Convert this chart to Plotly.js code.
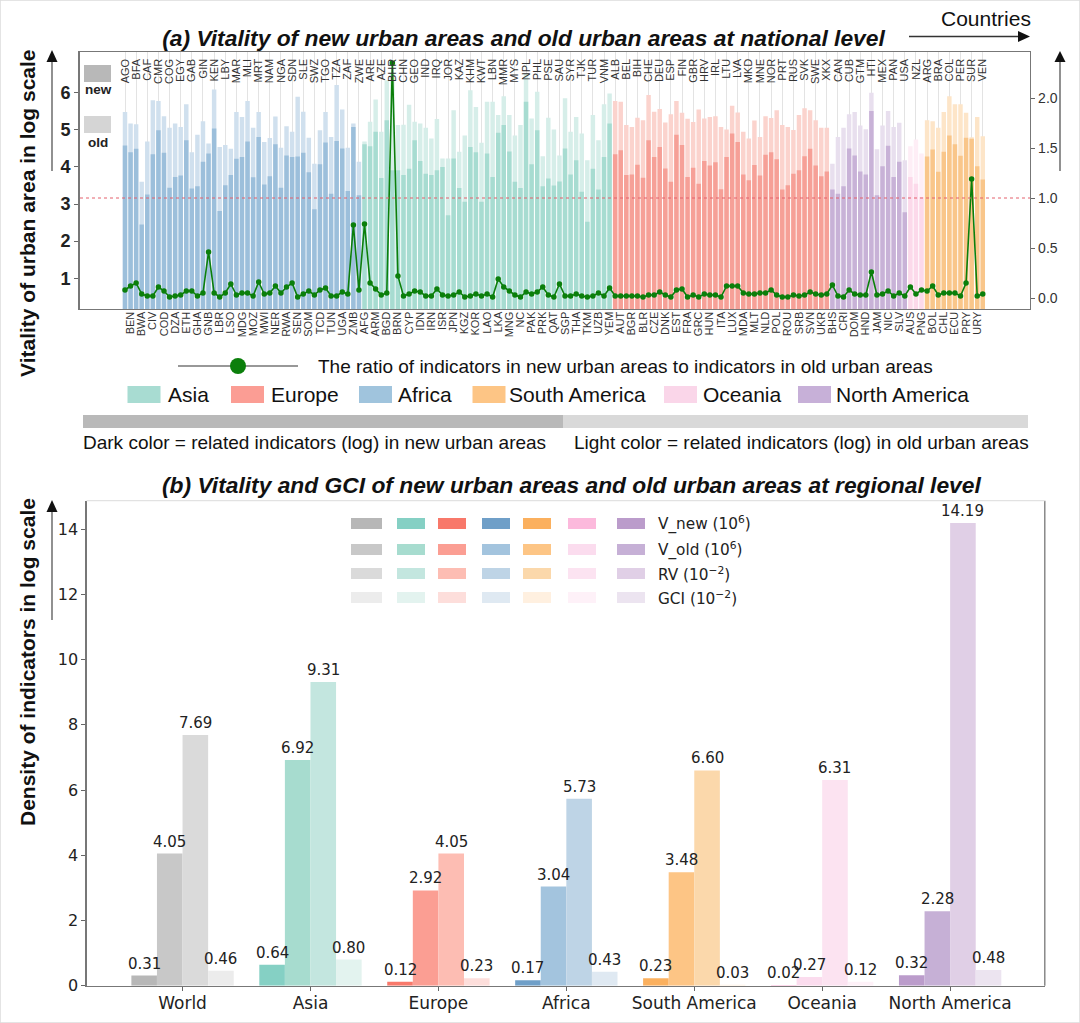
<!DOCTYPE html>
<html><head><meta charset="utf-8">
<script src="https://cdn.plot.ly/plotly-3.0.1.min.js"></script>
<style>html,body{margin:0;padding:0;background:#fff}#c{width:1080px;height:1023px}</style>
</head><body><div id="c"></div>
<script>
const countries = ["AGO","BEN","BFA","BWA","CAF","CIV","CMR","COD","COG","DZA","EGY","ETH","GAB","GHA","GIN","GNB","KEN","LBR","LBY","LSO","MAR","MDG","MLI","MOZ","MRT","MWI","NAM","NER","NGA","RWA","SDN","SEN","SLE","SOM","SWZ","TCD","TGO","TUN","TZA","UGA","ZAF","ZMB","ZWE",
"AFG","ARE","ARM","AZE","BGD","BHR","BRN","CHN","CYP","GEO","IDN","IND","IRN","IRQ","ISR","JOR","JPN","KAZ","KGZ","KHM","KOR","KWT","LAO","LBN","LKA","MMR","MNG","MYS","NC","NPL","PAK","PHL","PRK","PSE","QAT","SAU","SGP","SYR","THA","TJK","TKM","TUR","UZB","VNM","YEM",
"ALB","AUT","BEL","BGR","BIH","BLR","CHE","CZE","DEU","DNK","ESP","EST","FIN","FRA","GBR","GRC","HRV","HUN","IRL","ITA","LTU","LUX","LVA","MDA","MKD","MLT","MNE","NLD","NOR","POL","PRT","ROU","RUS","SRB","SVK","SVN","SWE","UKR","XKX",
"BHS","CAN","CRI","CUB","DOM","GTM","HND","HTI","JAM","MEX","NIC","PAN","SLV","USA",
"AUS","NZL","PNG",
"ARG","BOL","BRA","CHL","COL","ECU","PER","PRY","SUR","URY","VEN"];
const continentNames = ["Africa","Asia","Europe","North America","Oceania","South America"];
const continentCounts = [43,45,39,14,3,11];
const newColors = ["#9cbfdb","#a7dcd1","#f6a097","#c8b2d7","#fcd9ea","#f9c68a"];
const oldColors = ["#d0e0ee","#d6eee9","#fbd3cd","#e8dfee","#feeef6","#fde5c8"];
const vitalityNew = [4.58,4.40,4.49,2.45,3.26,4.34,4.99,4.38,3.44,3.73,3.77,4.72,3.42,3.48,4.14,4.36,5.04,2.81,3.51,3.78,4.22,4.27,4.69,3.72,4.81,3.53,3.75,4.61,3.44,4.31,4.27,4.28,4.38,3.86,2.86,4.07,4.66,3.28,4.70,4.50,3.35,5.08,3.24,
4.61,4.56,4.95,3.70,5.26,3.91,3.91,3.78,3.95,4.72,4.16,3.82,3.78,3.91,4.00,2.70,4.23,3.43,3.06,4.54,4.40,3.06,4.36,3.73,4.92,5.13,4.42,3.60,3.43,5.76,4.07,4.99,3.48,3.69,3.50,3.61,4.50,3.80,4.18,3.33,2.52,3.95,3.39,4.27,5.17,
4.34,4.45,3.78,3.80,4.06,3.71,4.72,4.27,4.54,3.96,3.60,4.87,4.59,3.73,3.98,3.55,4.16,4.04,4.13,3.40,4.27,4.90,4.67,3.80,3.64,4.05,3.77,4.33,4.40,4.21,3.39,3.51,3.82,3.91,4.29,4.49,4.04,3.75,3.88,
3.39,3.28,3.48,4.50,4.31,3.88,3.80,5.51,3.24,4.02,4.57,3.73,4.14,2.78,
3.73,3.55,3.19,
4.28,4.47,3.87,4.41,4.85,4.61,4.30,4.79,4.76,4.02,3.66];
const vitalityOld = [5.48,5.17,5.15,3.60,4.69,5.80,5.78,5.37,5.06,5.17,5.08,5.69,4.40,4.87,5.23,4.63,6.09,4.54,4.59,4.49,5.48,5.35,5.78,5.06,5.48,4.67,4.78,5.36,4.52,5.10,4.95,5.89,5.49,4.79,4.09,4.99,5.48,4.81,6.21,5.55,4.52,5.17,4.14,
4.69,5.22,5.82,4.95,6.34,6.52,5.13,5.14,5.68,5.22,5.17,5.06,4.77,5.29,4.23,4.23,5.53,4.41,4.85,6.07,5.62,4.65,5.76,5.76,5.40,5.91,5.40,4.85,5.13,6.52,5.31,6.03,4.29,5.33,5.01,4.31,5.85,4.95,5.35,4.90,4.18,5.40,4.72,5.69,5.98,
5.78,5.76,5.13,5.08,5.33,5.26,5.94,5.49,5.56,5.20,5.42,5.78,5.46,5.30,5.21,5.55,5.31,5.35,5.37,5.08,5.01,5.65,5.47,4.95,4.77,5.25,4.81,5.37,5.32,5.53,5.13,5.08,5.00,5.40,5.58,5.53,5.26,5.06,5.06,
4.09,4.81,5.06,5.42,5.48,5.12,5.02,6.00,4.48,5.12,5.51,5.08,5.19,4.18,
4.56,4.74,4.36,
5.26,5.23,5.06,5.48,5.91,5.69,5.69,5.46,4.80,5.35,4.83];
const ratio = [.08,.12,.15,.04,.02,.02,.11,.07,.01,.02,.03,.07,.07,.02,.05,.46,.05,.01,.05,.14,.03,.05,.05,.02,.16,.04,.05,.12,.05,.11,.15,.01,.04,.07,.03,.08,.10,.02,.02,.06,.04,.73,.08,
.74,.15,.09,.03,.05,2.35,.22,.02,.04,.07,.06,.02,.02,.09,.03,.02,.03,.06,.01,.02,.04,.02,.04,.01,.19,.11,.07,.03,.01,.06,.04,.06,.11,.03,.01,.14,.02,.02,.04,.02,.01,.02,.05,.02,.10,
.02,.02,.02,.02,.02,.01,.03,.03,.06,.03,.01,.08,.09,.01,.03,.01,.04,.03,.03,.01,.12,.12,.12,.05,.04,.04,.05,.05,.08,.03,.01,.01,.03,.02,.03,.06,.04,.03,.04,
.13,.02,.01,.08,.04,.03,.03,.26,.03,.04,.07,.02,.05,.02,
.11,.04,.08,
.07,.12,.03,.05,.05,.05,.02,.15,1.19,.02,.04];
const leftTicks = [1,2,3,4,5,6];
const rightTicks = [0,0.5,1,1.5,2];

const regions = ["World","Asia","Europe","Africa","South America","Oceania","North America"];
const vNew = [0.31,0.64,0.12,0.17,0.23,0.02,0.32];
const vOld = [4.05,6.92,2.92,3.04,3.48,0.27,2.28];
const rv   = [7.69,9.31,4.05,5.73,6.60,6.31,14.19];
const gci  = [0.46,0.80,0.23,0.43,0.03,0.12,0.48];
const densityTicks = [0,2,4,6,8,10,12,14];
const metricLabels = ["V_new (10<sup>6</sup>)","V_old (10<sup>6</sup>)","RV (10<sup>\u22122</sup>)","GCI (10<sup>\u22122</sup>)"];
const regionColors = [
 ["#b7b7b7","#85d0c4","#f8786a","#6f9fc8","#fbb05e","#fcb9dc","#bb9ccb"],
 ["#c8c8c8","#a7dccf","#fb9e93","#a3c4de","#fdc585","#fbdcee","#c6b0d6"],
 ["#dadada","#c3e6df","#fdbdb3","#bed4e6","#fbd8ab","#fce3f1","#e0cfe6"],
 ["#ececec","#e3f3ef","#fddedb","#dfe9f2","#fff0e0","#fef1f8","#ece4f0"]];

const W=1080,H=1023,PX=x=>x/W,PY=y=>1-y/H;
const SANS='"Liberation Sans", Arial, sans-serif', DJ='"DejaVu Sans", sans-serif';
const perCountry=(pal)=>{const o=[];continentCounts.forEach((n,k)=>{for(let i=0;i<n;i++)o.push(pal[k]);});return o;};
const topLabels=countries.filter((c,i)=>i%2===0), botLabels=countries.filter((c,i)=>i%2===1);
const topIdx=countries.map((c,i)=>i).filter(i=>i%2===0);

const traces=[
 {type:'scatter',mode:'markers',x:topIdx,y:topIdx.map(()=>null),xaxis:'x2',yaxis:'y',showlegend:false,hoverinfo:'skip'},
 {type:'bar',name:'old',x:countries,y:vitalityOld,width:0.8,marker:{color:perCountry(oldColors)},xaxis:'x',yaxis:'y',showlegend:false},
 {type:'bar',name:'new',x:countries,y:vitalityNew,width:0.8,marker:{color:perCountry(newColors)},xaxis:'x',yaxis:'y',showlegend:false},
 {type:'scatter',mode:'lines+markers',name:'ratio',x:countries,y:ratio,xaxis:'x',yaxis:'y2',line:{color:'#0b7f0b',width:1.6},marker:{color:'#0b7f0b',size:5.5},showlegend:false}
];
const shapes=[], annotations=[];
[vNew,vOld,rv,gci].forEach((arr,m)=>{
 const off=-0.4+0.2*m;
 traces.push({type:'bar',name:metricLabels[m],x:regions,y:arr,width:0.2,offset:off,
  marker:{color:regionColors[m],line:{width:0}},xaxis:'x3',yaxis:'y3',showlegend:false});
 arr.forEach((v,i)=>annotations.push({xref:'x3',yref:'y3',x:i+off+0.1,y:v,text:v.toFixed(2),showarrow:false,xanchor:'center',yanchor:'bottom',
   yshift:1,font:{family:DJ,size:15,color:'#222'}}));
});

const rect=(x0,y0,x1,y1,c)=>shapes.push({type:'rect',xref:'paper',yref:'paper',x0:PX(x0),x1:PX(x1),y0:PY(y0),y1:PY(y1),fillcolor:c,line:{width:0}});
const seg=(x0,y0,x1,y1,c,w)=>shapes.push({type:'line',xref:'paper',yref:'paper',x0:PX(x0),x1:PX(x1),y0:PY(y0),y1:PY(y1),line:{color:c,width:w}});
const tri=(a,b,c,col)=>shapes.push({type:'path',xref:'paper',yref:'paper',fillcolor:col,line:{width:0},
  path:`M ${PX(a[0])} ${PY(a[1])} L ${PX(b[0])} ${PY(b[1])} L ${PX(c[0])} ${PY(c[1])} Z`});
const txt=(x,y,text,size,opt={})=>annotations.push(Object.assign({xref:'paper',yref:'paper',x:PX(x),y:PY(y),text,showarrow:false,
  xanchor:'left',yanchor:'middle',font:{family:SANS,size,color:'#111'}},opt));

shapes.push({type:'rect',xref:'paper',yref:'paper',x0:0,x1:1,y0:0,y1:1,line:{color:'#dcdcdc',width:1.5},fillcolor:'rgba(0,0,0,0)'});
shapes.push({type:'line',xref:'paper',yref:'y2',x0:PX(80),x1:PX(1030),y0:1,y1:1,line:{color:'#e4606d',width:1,dash:'dot'}});
seg(52,171,52,60,'#555',1.3); tri([52,50],[46.5,62],[57.5,62],'#111');
seg(1060,171,1060,60,'#555',1.3); tri([1060,51],[1054.5,62],[1065.5,62],'#111');
seg(909,36.5,1020,36.5,'#333',1.3); tri([1030,36.5],[1018,31],[1018,42],'#111');
seg(52,620,52,510,'#555',1.3); tri([52,500],[46.5,512],[57.5,512],'#111');
rect(84,65,111,82,'#b8b8b8'); rect(84,116,111,133,'#d5d5d5');
txt(98,89,'new',13.5,{xanchor:'center',font:{family:SANS,size:13.5,color:'#222',weight:700}});
txt(98,142,'old',13.5,{xanchor:'center',font:{family:SANS,size:13.5,color:'#222',weight:700}});
seg(178,366,298,366,'#333',1.2);
shapes.push({type:'circle',xref:'paper',yref:'paper',x0:PX(230),x1:PX(246),y0:PY(374),y1:PY(358),fillcolor:'#0b7f0b',line:{width:0}});
txt(316,366,'The ratio of indicators in new urban areas to indicators in old urban areas',19);
const keyOrder=["Asia","Europe","Africa","South America","Oceania","North America"];
const keyColor=["#a8dcd2","#fb9d94","#a0c4dd","#fdc585","#fad6e9","#c7b0d8"];
const keyX=[127.5,231,359,472.5,664,798], keyTx=[166,269,395.5,507,700.5,833.6];
keyOrder.forEach((k,i)=>{rect(keyX[i],386,keyX[i]+33,403,keyColor[i]); txt(keyTx[i],394.5,k,21);});
rect(83,415,563,428,'#b9b9b9'); rect(563,415,1028,428,'#d9d9d9');
txt(81,442,'Dark color = related indicators (log) in new urban areas',19);
txt(572,442,'Light color = related indicators (log) in old urban areas',19);
txt(27,213,'Vitality of urban area in log scale',21,{xanchor:'center',textangle:-90,font:{family:SANS,size:21,color:'#111',weight:700}});
txt(27,662,'Density of indicators in log scale',21,{xanchor:'center',textangle:-90,font:{family:SANS,size:21,color:'#111',weight:700}});
txt(985.5,19,'Countries',21,{xanchor:'center'});
txt(571,485,'(b) Vitality and GCI of new urban areas and old urban areas at regional level',22.8,{xanchor:'center',
  font:{family:SANS,size:22.8,color:'#111',weight:700,style:'italic'}});
const swX=[[351,382],[397,425],[438,466],[482,510],[523,551],[568,596],[617,645]];
const swY=[[518,529],[544,555],[568,579],[592,603]];
regionColors.forEach((row,m)=>{row.forEach((c,k)=>rect(swX[k][0],swY[m][0],swX[k][1],swY[m][1],c));
  txt(656,(swY[m][0]+swY[m][1])/2,metricLabels[m],15.3,{font:{family:DJ,size:15.3,color:'#222'}});});
seg(1044.8,500.7,1044.8,985.7,'#777',1.3);
seg(86.6,500.7,1044.8,500.7,'#e2e2e2',1.2);

const xLo=(79.5-125)/5.57, xHi=(1030-125)/5.57;
const layout={
 width:W,height:H,margin:{l:0,r:0,t:0,b:0},autosize:false,paper_bgcolor:'#fff',plot_bgcolor:'rgba(0,0,0,0)',
 barmode:'overlay',showlegend:false,hovermode:false,
 title:{text:'(a) Vitality of new urban areas and old urban areas at national level',xref:'container',yref:'container',x:523.5/W,y:1-38/H,xanchor:'center',yanchor:'middle',
   font:{family:SANS,size:22.8,color:'#111',weight:700,style:'italic'}},
 xaxis:{domain:[PX(79.5),PX(1030)],anchor:'y',type:'category',categoryorder:'array',categoryarray:countries,range:[xLo,xHi],
   tickmode:'array',tickvals:botLabels,ticktext:botLabels,tickangle:-90,ticks:'',showgrid:false,zeroline:false,ticklabelstandoff:-3,
   tickfont:{family:SANS,size:11,color:'#333'},showline:true,linecolor:'#777',linewidth:1.3},
 xaxis2:{domain:[PX(79.5),PX(1030)],anchor:'y',overlaying:'x',side:'top',type:'linear',range:[xLo,xHi],
   tickmode:'array',tickvals:topIdx,ticktext:topLabels,tickangle:-90,ticks:'',ticklabelposition:'inside',
   showgrid:true,gridcolor:'#dcdcdc',gridwidth:0.8,zeroline:false,
   tickfont:{family:SANS,size:11,color:'#333'},showline:true,linecolor:'#777',linewidth:1.3},
 yaxis:{domain:[PY(309),PY(52)],anchor:'x',range:[0.17,7.1],tickmode:'array',tickvals:leftTicks,ticks:'outside',ticklen:4,tickcolor:'#666',
   showgrid:false,zeroline:false,showline:true,linecolor:'#777',linewidth:1.3,
   tickfont:{family:SANS,size:18,color:'#222',weight:700}},
 yaxis2:{domain:[PY(309),PY(52)],anchor:'x',overlaying:'y',side:'right',range:[-0.11,2.46],tickmode:'array',tickvals:rightTicks,
   tickformat:'.1f',ticks:'outside',ticklen:4,tickcolor:'#666',showgrid:false,zeroline:false,showline:true,linecolor:'#777',linewidth:1.3,
   tickfont:{family:SANS,size:14,color:'#333'}},
 xaxis3:{domain:[PX(86.6),PX(1044.8)],anchor:'y3',type:'category',categoryorder:'array',categoryarray:regions,range:[-0.75,6.74],
   ticks:'outside',ticklen:4,tickcolor:'#666',showgrid:false,zeroline:false,showline:true,linecolor:'#777',linewidth:1.3,ticklabelstandoff:-2,
   tickfont:{family:DJ,size:17,color:'#222'}},
 yaxis3:{domain:[PY(985.7),PY(500.7)],anchor:'x3',range:[0,14.87],tickmode:'array',tickvals:densityTicks,ticks:'outside',ticklen:4,tickcolor:'#666',
   showgrid:false,zeroline:false,showline:true,linecolor:'#777',linewidth:1.3,
   tickfont:{family:DJ,size:16,color:'#222'}},
 shapes,annotations
};
Plotly.newPlot('c',traces,layout,{displayModeBar:false,staticPlot:true});
</script></body></html>
